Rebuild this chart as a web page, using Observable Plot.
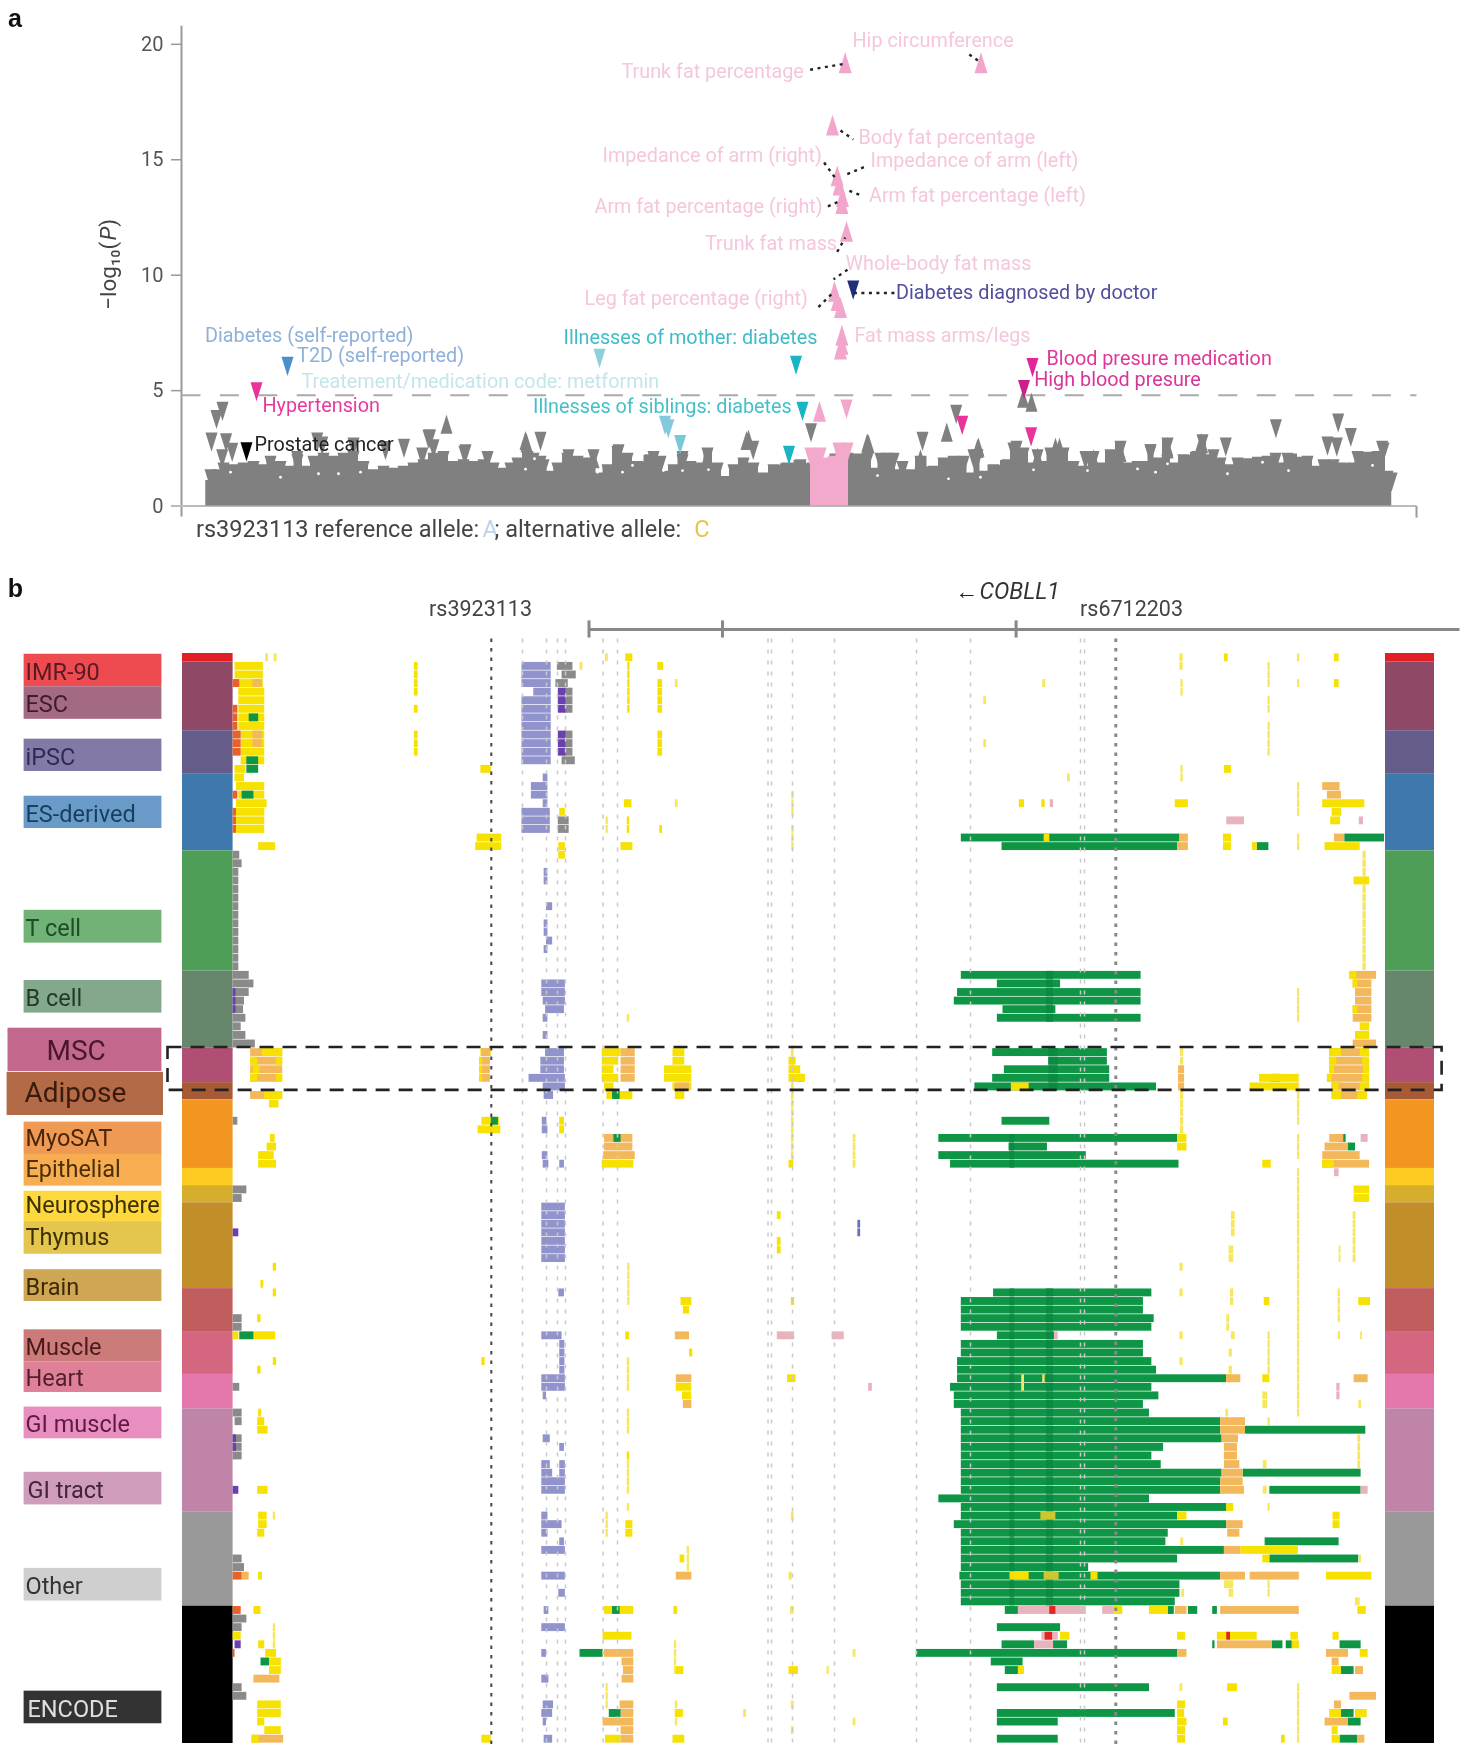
<!DOCTYPE html>
<html><head><meta charset="utf-8">
<script src="https://cdn.jsdelivr.net/npm/d3@7"></script>
<script src="https://cdn.jsdelivr.net/npm/@observablehq/plot@0.6"></script>
<style>
html,body{margin:0;padding:0;background:#fff}
#chart{position:relative;width:1464px;height:1762px;overflow:hidden}
#chart svg{position:absolute;left:0;filter:blur(.55px);overflow:visible}
</style></head><body><div id="chart"></div>
<script>
const FONT = "Roboto";
// ---------- panel a: association values ----------
const gwasTicks = [0,5,10,15,20];
const threshold = 4.8;
const skyline = [[204.5,0],[206,1.11],[210,1.54],[217,1.54],[223,1.83],[233,1.76],[243,1.83],[253,1.9],[263,1.76],[270,2.12],[280,1.9],[290,1.69],[297,2.19],[307,1.69],[313,2.12],[323,2.26],[333,2.12],[343,2.26],[353,2.33],[363,1.9],[373,1.54],[383,1.69],[393,1.61],[403,1.69],[413,1.83],[423,1.97],[433,2.26],[443,2.33],[453,1.9],[463,1.97],[473,1.9],[483,1.97],[487,2.33],[493,1.83],[503,1.61],[510,1.83],[517,2.05],[527,2.33],[533,2.26],[540,2.12],[543,1.97],[550,1.47],[557,1.83],[567,2.26],[577,2.12],[587,2.05],[593,2.41],[598,1.4],[607,1.76],[617,2.55],[627,2.26],[637,1.9],[650,2.19],[660,2.12],[663,1.47],[673,1.76],[682,2.19],[690,1.9],[700,1.83],[707,2.48],[717,1.83],[725,1.25],[733,1.76],[743,2.05],[753,1.83],[763,1.4],[773,1.76],[787,1.83],[800,1.97],[812,1.83],[847,2.26],[867,2.26],[875,1.61],[880,2.26],[893,2.26],[897,1.54],[902,1.9],[910,1.54],[920,2.12],[933,1.69],[943,2.05],[953,2.12],[963,2.12],[970,1.4],[977,2.41],[982,1.47],[993,1.76],[1007,1.97],[1013,2.7],[1023,2.48],[1033,1.83],[1037,2.41],[1043,1.9],[1050,2.48],[1063,2.48],[1073,1.9],[1083,1.69],[1093,2.33],[1100,1.83],[1110,2.41],[1120,2.77],[1127,1.83],[1137,1.9],[1145,1.9],[1150,2.62],[1157,2.05],[1167,2.91],[1173,1.83],[1183,2.19],[1197,2.33],[1202,3.06],[1210,2.19],[1213,2.41],[1220,2.05],[1230,1.76],[1237,2.05],[1267,2.12],[1275,2.26],[1280,1.83],[1287,2.26],[1307,2.12],[1317,1.69],[1323,1.97],[1333,1.97],[1340,1.83],[1352,1.83],[1357,2.33],[1377,2.33],[1383,2.7],[1387,1.47],[1391,1.4],[1391.5,0]];
const pinkSkyline = [[810,0],[810,2.48],[820,2.48],[825,2.05],[833,2.12],[838,2.7],[847,2.7],[849,0]];
const grayUp = [[446,3.55],[526,2.75],[748,2.9],[525,2.84],[593,2.05],[706,2.05],[746,2.84],[868,2.7],[920,2.05],[978,2.55],[1037,2.12],[1055,2.55],[1059,2.55],[1093,2.05],[1110,2.05],[1120,2.33],[1167,2.48],[1201.7,2.7],[1022.6,4.67],[1031,4.5],[946.3,3.2],[866.7,2.74],[977,2.5],[1200.5,2.74],[1166.8,2.58]];
const grayDown = [[222,4.1],[216,3.75],[211,2.77],[225.6,2.74],[231.7,2.33],[221.7,2.05],[429.5,2.9],[540,2.8],[403.5,2.5],[464,2.2],[316.7,2.77],[321.7,2.6],[353,2.55],[385,2.4],[421.7,2.12],[428,2.9],[433,2.48],[465,2.26],[296.7,1.97],[568,2.05],[618,2.26],[653,1.97],[682,1.97],[752.7,2.41],[810.5,3.17],[955.7,3.97],[922,2.8],[887,1.9],[973,2.05],[1016,2.41],[1085,1.97],[1150,2.26],[1225.3,2.55],[1275.4,3.35],[1337.7,3.6],[1350.3,2.97],[1327,2.6],[1336.3,2.55],[1381.7,2.41]];
const pinkUp = [[844.7,19.2],[980.5,19.2],[832,16.5],[836.7,14.3],[838.6,13.9],[842,13.4],[841.4,13.1],[846,11.9],[834,9.3],[836.7,8.9],[840,8.6],[841.4,7.4],[841.4,7.0],[840,6.8],[819,4.1]];
const hitsDown = [[846,4.2,"#f2a6cb"],[852.7,9.35,"#1f2d7a"],[795.5,6.1,"#19b5c4"],[802,4.1,"#19b5c4"],[788.5,2.2,"#19b5c4"],[599,6.4,"#8fd0d8"],[664.5,3.5,"#83c9de"],[667.8,3.35,"#83c9de"],[679.6,2.66,"#79c8d8"],[287,6.05,"#4a8fcb"],[256,4.95,"#e8359c"],[246,2.35,"#000000"],[1032,6.0,"#e0259a"],[1023.5,5.05,"#c9208a"],[961.7,3.5,"#e8359c"],[1030.6,3.0,"#e8359c"]];
const skylineGaps = [[230,1.47],[318,1.4],[338,1.4],[280,1.25],[360,1.47],[525,1.6],[534,2.05],[622,1.47],[632,1.76],[682,1.54],[708,1.58],[663,1.54],[597,1.47],[877,1.32],[948,1.18],[1033,1.57],[980,1.25],[1087,1.54],[1167,1.83],[1155,1.47],[1227,1.4],[1372,1.76],[1137,1.61],[1262,1.9],[1288,1.54]];
const traitNames = ["Hip circumference","Trunk fat percentage","Body fat percentage","Impedance of arm (right)","Impedance of arm (left)","Arm fat percentage (right)","Arm fat percentage (left)","Trunk fat mass","Whole-body fat mass","Leg fat percentage (right)","Fat mass arms/legs","Diabetes diagnosed by doctor","Diabetes (self-reported)","T2D (self-reported)","Illnesses of mother: diabetes","Blood presure medication","High blood presure","Treatement/medication code: metformin","Hypertension","Illnesses of siblings: diabetes","Prostate cancer"];
const traitX = [852,621,858,602,870,594,868.5,704.5,845,584,854,895.5,204.5,296.6,563,1046,1033.7,301,262,532.6,254];
const traitV = [20.2,18.83,16,15.18,14.98,12.99,13.48,11.39,10.5,9.01,7.4,9.25,7.4,6.52,7.3,6.42,5.5,5.4,4.38,4.33,2.68];
const traitInk = ["#f5c6dd","#f5c6dd","#f5c6dd","#f5c6dd","#f5c6dd","#f5c6dd","#f5c6dd","#f5c6dd","#f5c6dd","#f5c6dd","#f5c6dd","#4f4f9c","#8fb0da","#8fb0da","#3fbcc5","#e0389a","#d6359a","#c3e5ec","#e63b9e","#45c0c8","#222222"];
const leaders = [[809.6,18.9,844.7,19.16],[968.8,19.56,980.5,19.2],[840,16.27,852.7,15.88],[823.6,14.88,835.3,14.18],[863.4,14.68,844.7,14.34],[827.4,12.98,837.7,13.18],[858.7,13.49,844.7,13.72],[836.7,11.01,844.7,11.63],[847,10.24,833,9.82],[818,8.62,834,9.31],[893.9,9.23,854,9.23]];
const alleleText = ["rs3923113 reference allele:","A","; alternative allele:","C"];
const alleleX = [195.5,482,494,693.7];
const alleleInk = ["#444444","#bcd3ea","#444444","#e8c34a"];

const narrow = dir => ({draw(c,size){const r=Math.sqrt(size/Math.PI);c.moveTo(0,dir*r*1.6);c.lineTo(r,-dir*r*1.6);c.lineTo(-r,-dir*r*1.6);c.closePath();}});
const triUp = narrow(-1), triDown = narrow(1);
const T = a => a.map(d=>({x:d[0],v:d[1],c:d[2]}));

const traitRows = traitNames.map((t,i)=>({t,x:traitX[i],v:traitV[i],c:traitInk[i]}));
const plotA = Plot.plot({
  width:1464,height:560,margin:0,style:{fontFamily:FONT,background:"transparent"},
  x:{domain:[0,1464],range:[0,1464],axis:null},
  y:{domain:[0,20],range:[505.6,43.8],axis:null},
  marks:[
    Plot.axisY({ticks:gwasTicks,anchor:"left",tickSize:10,tickPadding:8,label:null,fontSize:20,stroke:"#999",x:181,strokeWidth:1.5,fill:"#555"}),
    Plot.link([0],{x1:181,x2:181,y1:-0.45,y2:20.8,stroke:"#9a9a9a",strokeWidth:2}),
    Plot.link([0],{x1:171,x2:1416,y1:0,y2:0,stroke:"#bbb",strokeWidth:2}),
    Plot.link([0],{x1:1416,x2:1416,y1:0,y2:-0.5,stroke:"#999",strokeWidth:2}),
    Plot.link([0],{x1:181,x2:1416,y1:threshold,y2:threshold,stroke:"#aaa",strokeWidth:2.2,strokeDasharray:"19,19.4"}),
    Plot.areaY(skyline,{x:d=>d[0],y:d=>d[1],fill:"#808080",curve:"step"}),
    Plot.dot(skyline.filter(d=>d[1]>1.2),{x:d=>d[0],y:d=>d[1]-0.36,r:6,symbol:triDown,fill:"#808080",stroke:"none"}),
    Plot.dot(skylineGaps,{x:d=>d[0],y:d=>d[1],r:1.4,fill:"#fff",stroke:"none"}),
    Plot.areaY(pinkSkyline,{x:d=>d[0],y:d=>d[1],fill:"#f2a9cc",curve:"step"}),
    Plot.dot(pinkSkyline.filter(d=>d[1]>1.2),{x:d=>d[0],y:d=>d[1]-0.36,r:6,symbol:triDown,fill:"#f2a9cc",stroke:"none"}),
    Plot.dot(T(grayUp),{x:"x",y:"v",r:6,symbol:triUp,fill:"#808080",stroke:"none"}),
    Plot.dot(T(grayDown),{x:"x",y:"v",r:6,symbol:triDown,fill:"#808080",stroke:"none"}),
    Plot.dot(T(pinkUp),{x:"x",y:"v",r:6.5,symbol:triUp,fill:"#f2a6cb",stroke:"none"}),
    Plot.dot(T(hitsDown),{x:"x",y:"v",r:6,symbol:triDown,fill:"c",stroke:"none"}),
    Plot.link(leaders,{x1:d=>d[0],y1:d=>d[1],x2:d=>d[2],y2:d=>d[3],stroke:"#222",strokeWidth:2.4,strokeDasharray:"3,4.5"}),
    Plot.text(traitRows,{x:"x",y:"v",text:"t",fill:"c",textAnchor:"start",fontSize:19.8,dy:0.5}),
    Plot.text(alleleText,{x:(d,i)=>alleleX[i],y:-1.02,text:d=>d,fill:(d,i)=>alleleInk[i],textAnchor:"start",fontSize:23.5}),
    Plot.text(["−log₁₀("],{x:108,y:8.5,text:d=>d,rotate:-90,textAnchor:"start",fontSize:22.5,fill:"#444"}),
    Plot.text(["P"],{x:108,y:11.5,text:d=>d,rotate:-90,textAnchor:"start",fontSize:22.5,fontStyle:"italic",fill:"#444"}),
    Plot.text([")"],{x:108,y:12.1,text:d=>d,rotate:-90,textAnchor:"start",fontSize:22.5,fill:"#444"}),
    Plot.text(["a"],{x:14.5,y:21.1,text:d=>d,fontSize:25,fontWeight:900,fontFamily:"Liberation Sans",fill:"#111"})
  ]
});
plotA.style.top="0px";

// ---------- panel b: chromatin states ----------
const groupNames = ["IMR-90","ESC","iPSC","ES-derived","T cell","B cell","MSC","Adipose","MyoSAT/Epithelial","Neurosphere","Thymus","Brain","Muscle","Heart","GI muscle","GI tract","Other","ENCODE"];
const groupRows = [1,8,5,9,14,9,4,2,8,2,2,10,5,5,4,12,11,16];
const groupFill = ["#e31f26","#8f4866","#655c8a","#3f78ad","#4f9e58","#67876c","#b04f73","#a85a36","#f39621","#fdcb22","#d6ae2e","#c28e2a","#c05e5e","#d56680","#e478ad","#c084a8","#999999","#000000"];
const labelNames = ["IMR-90","ESC","iPSC","ES-derived","T cell","B cell","MSC","Adipose","MyoSAT","Epithelial","Neurosphere","Thymus","Brain","Muscle","Heart","GI muscle","GI tract","Other","ENCODE"];
const labelTop = [0.09,3.88,9.98,16.63,29.92,38.1,43.66,48.8,54.6,58.37,62.65,66.2,71.8,78.8,82.55,87.8,95.4,106.6,120.9];
const labelBottom = [3.88,7.67,13.75,20.39,33.75,41.9,48.7,53.83,58.37,62.06,66.2,70,75.5,82.55,86.1,91.5,99.2,110.4,124.7];
const labelMid = [2,5.75,11.87,18.5,31.83,40,46.05,50.95,56.24,59.85,64.05,67.75,73.65,80.65,84.2,89.65,97.3,108.5,122.8];
const labelFill = ["#ee4b50","#a56a83","#8379a6","#6a9bc8","#71b276","#83a88c","#c2688c","#b36a47","#ee9a55","#f8ad50","#fdd93f","#e3c550","#cfa653","#cc7b7b","#de8098","#e98fbf","#cf9cbc","#cfcfcf","#333333"];
const labelInk = ["#5a1a25","#3d1c2e","#2f2a55","#17405f","#1c4d24","#233a28","#4a1730","#3a1a0c","#4a2508","#4a3008","#3d3000","#3d3000","#3d2a05","#4a1a1a","#521d2e","#5c1a45","#44243a","#333333","#e0e0e0"];
const labelLeft = [23.6,23.6,23.6,23.6,23.6,23.6,7.5,6.6,23.6,23.6,23.6,23.6,23.6,23.6,23.6,23.6,23.6,23.6,23.6];
const labelRight = [161.4,161.4,161.4,161.4,161.4,161.4,161.4,163,161.4,161.4,161.4,161.4,161.4,161.4,161.4,161.4,161.4,161.4,161.4];
const labelTextX = [25,25,25,25,25,25,46,24,25,25,25,25,25,25,25,25,27,25,27];
const labelSize = [23.5,23.5,23.5,23.5,23.5,23.5,28,28,23.5,23.5,23.5,23.5,23.5,23.5,23.5,23.5,23.5,23.5,23.5];

// segments are [firstRow,(lastRow),start,end]; "R" lists are read on the right-hand half, "L" on the left-hand half
const greenR = [[21,493,960],[22,580,955],[37,493,877],[38,570,705],[39,485,877],[40,478,877],[41,582,695],[42,570,877],[46,560,805],[47,680,805],[48,585,810],[49,560,810],[50,522,910],[54,580,682],[56,445,955],[57,595,677],[58,445,760],[59,470,958],[74,562,900],[75,76,493,882],[77,493,905],[78,493,900],[79,570,692],[80,81,493,882],[82,485,900],[83,485,910],[84,485,1060],[85,470,900],[86,478,915],[87,478,882],[88,493,895],[89,90,493,1047],[91,493,1050],[92,493,925],[93,493,900],[94,493,920],[95,493,1050],[96,97,493,1047],[98,445,895],[99,493,1060],[100,493,955],[101,478,1060],[102,493,935],[103,493,930],[104,493,1055],[105,493,955],[106,493,765],[107,490,1047],[108,109,493,960],[110,493,950],[111,587,615],[113,570,705],[115,580,650],[115,690,720],[116,397,955],[117,557,625],[118,587,615],[120,570,895],[123,570,950],[124,570,700],[126,570,700],
 [21,1312,1397],[22,1125,1150],[46,1305,1330],[49,1155,1175],[51,1305,1340],[56,1300,1315],[57,1320,1335],[90,1100,1357],[95,1095,1347],[97,1152,1347],[103,1142,1300],[105,1152,1342],[111,935,948],[111,978,998],[111,1030,1040],[115,1030,1035],[115,1157,1180],[115,1187,1200],[115,1302,1347],[118,1305,1332],[123,1305,1332],[124,1320,1347],[126,1302,1340],[49,145,155]];
const darkGreenR = [[74,110,597,607],[74,110,675,690],[37,42,675,690],[46,50,680,700],[56,59,597,607]];
const orangeR = [[21,960,978],[22,955,978],[21,1290,1312],[15,1265,1302],[16,1275,1305],[37,1323,1380],[38,1330,1370],[39,40,1335,1370],[41,42,1330,1370],[45,1330,1380],[46,47,1280,1365],[48,1280,1365],[49,1275,1365],[50,1285,1365],[51,1285,1360],[48,50,957,970],[56,1280,1310],[57,1270,1320],[58,1265,1345],[59,1265,1365],[84,1060,1090],[84,1332,1362],[89,90,1047,1100],[91,1050,1085],[92,93,1055,1083],[94,1055,1088],[95,1050,1095],[96,1047,1095],[97,1047,1098],[101,1060,1095],[102,1062,1088],[104,1055,1090],[107,1047,1100],[107,1110,1215],[111,950,975],[111,1047,1215],[115,1040,1157],[116,955,975],[116,1273,1320],[117,1285,1300],[118,1335,1352],[121,1323,1380],[122,1290,1305],[124,1270,1320],[126,1340,1355]];
const yellowR = [[0,1055,1063],[0,1290,1300],[3,1290,1300],[13,1055,1070],[17,950,978],[17,617,628],[17,665,672],[17,1265,1355],[18,1285,1305],[19,1282,1303],[21,1053,1070],[21,670,682],[22,1053,1070],[22,1115,1125],[22,1270,1345],[26,1332,1365],[43,1345,1365],[44,1335,1365],[49,1130,1213],[50,1110,1213],[50,600,638],[50,1285,1310],[49,125,160],[47,125,140],[48,125,150],[56,955,975],[57,955,975],[59,1137,1155],[59,125,135],[62,63,1332,1365],[75,130,137],[75,1140,1152],[75,1342,1367],[84,1137,1152],[84,122,140],[84,1060,1075],[99,1060,1075],[100,955,975],[100,1287,1302],[101,1287,1302],[104,1090,1213],[105,1137,1152],[107,597,638],[107,770,785],[107,1273,1370],[111,820,838],[111,895,935],[111,1340,1358],[114,705,725],[114,955,972],[114,1040,1125],[114,1197,1213],[114,1287,1300],[115,1200,1215],[116,1345,1362],[118,615,628],[118,125,145],[118,1285,1305],[120,1062,1083],[122,955,972],[123,955,970],[123,1280,1305],[123,1335,1360],[124,955,975],[124,1053,1063],[125,126,955,972],[125,1285,1298],[126,1177,1185],[126,1285,1302],[68,69,100,108],[65,100,108]];
const yellowOverR = [[46,1280,1305],[46,1345,1365],[47,1280,1295],[47,1350,1365],[48,1280,1290],[48,1352,1365],[49,1275,1285],[49,1350,1365],[50,1285,1300],[50,1345,1365],[51,1285,1305],[51,1340,1360],[37,1323,1338],[38,1330,1340],[41,1330,1340],[59,1265,1290]];
const oliveR = [[100,663,695],[107,670,702]];
const pinkR = [[19,1060,1098],[19,1343,1352],[17,683,690],[56,1347,1362],[60,1290,1300],[79,100,137],[79,217,243],[79,692,700],[85,295,303],[85,86,1295,1302],[97,1347,1362],[111,615,760],[111,795,820],[114,665,700],[115,650,690]];
const redR = [[111,682,695],[114,672,688],[114,1060,1068]];
const blueR = [[66,67,272,278]];
const thinR = [[0,1,960,967],[3,4,962,967],[1,3,1148,1153],[5,6,1148,1153],[8,11,1148,1153],[0,1211,1216],[3,1211,1216],[15,18,1211,1216],[21,22,1211,1216],[39,42,1211,1216],[49,51,1211,1216],[3,667,673],[5,541,547],[10,541,547],[14,720,726],[13,14,962,967],[23,36,1351,1358],[16,18,131,136],[20,22,131,136],[46,50,130,136],[51,58,130,136],[46,55,961,968],[56,58,1211,1216],[56,59,262,268],[51,54,1211,1216],[60,88,1211,1216],[69,70,1065,1075],[65,67,1070,1078],[69,70,1300,1304],[65,70,1330,1336],[74,75,1068,1075],[71,960,967],[74,960,967],[74,77,1298,1303],[79,960,967],[79,1070,1078],[79,1298,1303],[79,1346,1350],[77,78,1060,1066],[81,1065,1072],[82,960,967],[83,1065,1072],[79,83,1148,1153],[84,85,622,628],[84,667,672],[86,87,1137,1147],[87,1342,1348],[88,1058,1064],[89,1148,1153],[94,1138,1146],[97,1138,1146],[99,1148,1153],[100,130,136],[103,962,968],[105,1343,1348],[107,125,132],[108,1055,1075],[108,109,1148,1153],[109,1065,1075],[109,964,970],[110,1335,1345],[111,128,136],[116,262,268],[118,206,211],[120,960,966],[122,130,136],[123,28,34],[124,262,268],[125,130,136],[120,123,1211,1216],[124,126,1211,1216],[91,94,1340,1346]];
const yellowL = [[1,3,497,557],[4,505,560],[5,8,505,560],[9,12,510,560],[13,497,520],[14,497,517],[15,500,560],[16,505,560],[17,500,565],[18,20,500,560],[22,547,583],[13,1018,1040],[21,1010,1062],[22,1007,1062],[1,4,877,885],[6,877,885],[9,11,877,885],[0,1325,1340],[1,6,1329,1334],[1,1393,1405],[3,6,1393,1403],[9,11,1393,1403],[17,1322,1338],[19,20,1328,1333],[20,1397,1403],[22,1315,1340],[18,1185,1197],[22,23,1183,1197],[46,1018,1040],[46,1275,1315],[47,1275,1310],[48,1275,1300],[49,1275,1310],[50,1280,1300],[46,47,1425,1450],[48,49,1407,1465],[50,1425,1465],[51,1430,1450],[47,49,1015,1020],[52,570,590],[54,1020,1058],[55,1012,1060],[54,1185,1195],[55,1185,1195],[56,572,582],[57,565,585],[58,547,580],[59,547,585],[59,1275,1342],[51,1285,1340],[71,578,585],[73,552,558],[74,578,585],[75,1442,1465],[76,1447,1460],[77,545,552],[79,493,505],[79,537,583],[79,1325,1333],[81,1460,1467],[82,578,585],[82,1020,1027],[83,545,552],[85,1432,1465],[86,1445,1465],[88,547,553],[89,545,560],[90,545,567],[93,1328,1333],[97,545,567],[100,547,565],[101,547,565],[101,1325,1340],[102,545,560],[102,1325,1340],[105,1440,1450],[107,547,555],[111,537,552],[111,1280,1342],[111,1427,1435],[114,1277,1338],[114,493,510],[115,547,560],[116,562,585],[117,570,595],[118,570,595],[118,1432,1448],[122,123,545,595],[123,1430,1447],[124,545,560],[125,560,595],[126,1020,1040],[126,1282,1315],[126,1425,1450]];
const orangeL = [[3,535,555],[9,10,535,555],[46,49,1020,1038],[46,49,1315,1345],[46,530,598],[47,49,530,598],[50,1430,1460],[51,530,598],[56,57,1280,1340],[58,1278,1345],[79,1430,1460],[84,1432,1465],[87,1447,1465],[107,512,527],[107,1432,1465],[116,1280,1342],[117,1317,1342],[118,1320,1342],[119,537,592],[119,1317,1342],[122,1313,1342],[123,1315,1342],[124,1277,1342],[125,1315,1342],[126,533,600],[126,1315,1342]];
const yellowOverL = [[46,555,598],[47,530,545],[47,585,598],[48,535,550],[49,530,545],[49,585,598],[51,560,598],[126,533,548]];
const emberL = [[3,493,507],[6,8,493,503],[9,11,493,510],[16,493,503],[18,20,493,500],[107,493,512],[111,493,510],[116,493,497]];
const greenL = [[7,527,547],[12,13,522,547],[16,512,537],[54,1040,1055],[56,1300,1315],[51,1297,1313],[79,507,537],[111,1297,1313],[116,1228,1277],[117,552,570],[123,1290,1315]];
const grayL = [[23,493,507],[24,493,512],[25,36,493,505],[37,493,527],[38,493,537],[39,493,527],[40,493,517],[41,493,515],[42,493,520],[43,493,510],[44,493,520],[45,493,540],[54,493,503],[62,493,522],[63,493,512],[77,78,493,512],[85,493,507],[88,493,512],[89,497,512],[91,93,493,512],[105,493,512],[106,493,517],[112,493,522],[113,493,512],[120,493,512],[121,493,522],[1,1180,1213],[2,1190,1220],[3,1177,1203],[4,6,1195,1213],[9,11,1195,1213],[12,1190,1218],[19,20,1182,1205]];
const purpleL = [[4,6,1182,1198],[9,11,1182,1198],[39,41,493,499],[67,493,505],[91,92,493,500],[97,493,505],[115,497,510]];
const periL = [[1,3,1105,1167],[4,1130,1167],[5,12,1105,1167],[14,1150,1160],[15,16,1125,1160],[17,1150,1160],[18,20,1105,1165],[25,26,1152,1160],[29,1157,1170],[31,32,1152,1160],[33,1157,1170],[34,1152,1160],[38,39,1147,1197],[40,1150,1197],[41,1155,1195],[42,1150,1160],[44,1150,1160],[46,1155,1195],[47,48,1145,1195],[49,1120,1197],[50,1150,1197],[51,1152,1172],[54,1148,1158],[55,1148,1160],[58,1148,1160],[59,1150,1162],[59,1185,1195],[64,70,1147,1197],[74,1183,1195],[79,1147,1190],[80,83,1185,1196],[84,85,1147,1197],[86,1150,1157],[91,1150,1165],[92,1185,1195],[94,1147,1165],[94,1185,1197],[95,1147,1170],[95,1185,1197],[96,97,1147,1197],[100,1147,1160],[101,1147,1190],[102,1147,1160],[103,1185,1195],[104,1147,1197],[107,1147,1197],[109,1183,1197],[111,1152,1162],[113,1147,1197],[116,1147,1157],[119,1147,1162],[122,1150,1172],[123,1147,1170],[124,1150,1157],[126,1152,1170]];
const thinL = [[0,562,568],[0,580,586],[1,1228,1234],[0,1282,1288],[3,1430,1436],[17,1430,1436],[19,20,1283,1288],[71,75,1329,1334],[82,85,1328,1333],[88,90,1328,1333],[94,97,1328,1333],[99,1328,1333],[100,102,1283,1288],[42,1328,1333],[113,116,578,583],[100,578,583],[120,122,1283,1288],[115,118,1428,1433],[104,106,1455,1460],[122,124,1430,1435]];
const thinMarkers = [522,546,557,565,602.6,617,767.5,771,792,834,916,970,1080,1084];
const darkMarkers = [[490.8,"#444444",2],[1115.3,"#888888",3]];
const geneTicks = [588.5,722,1015.6];

// calibration of the two reading halves onto the shared position axis
const fromR = z => 730 + z/2.136, fromL = z => z/2.119;
const expand = (list,side,fill) => list.map(s => {
  const [a,b,x1,x2] = s.length===3 ? [s[0],s[0],s[1],s[2]] : s;
  const f = side==="R"?fromR:fromL;
  return {r1:a,r2:b,x1:f(x1),x2:f(x2),fill};
}).flatMap(d => d3.range(d.r1,d.r2+1).map(r=>({...d,r})));
const segs = [
  ...expand(greenR,"R","#0e9646"),
  ...expand(darkGreenR,"R","#0b8b41"),
  ...expand(pinkR,"R","#e9b3bd"),
  ...expand(thinR,"R","#f7e75e"),
  ...expand(thinL,"L","#f7e75e"),
  ...expand(yellowL,"L","#f6e100"),
  ...expand(yellowR,"R","#f6e100"),
  ...expand(orangeL,"L","#f4b85c"),
  ...expand(orangeR,"R","#f4b85c"),
  ...expand(yellowOverL,"L","#f6e100"),
  ...expand(yellowOverR,"R","#f6e100"),
  ...expand(oliveR,"R","#cdc72f"),
  ...expand(redR,"R","#e3241f"),
  ...expand(emberL,"L","#e8602a"),
  ...expand(greenL,"L","#0e9646"),
  ...expand(grayL,"L","#8a8a8a"),
  ...expand(periL,"L","#9193cd"),
  ...expand(purpleL,"L","#6a3fb0"),
  ...expand(blueR,"R","#6a70c0")
];
let cum = 0;
const groups = groupNames.map((n,i)=>{const o={n,a:cum,b:cum+groupRows[i],fill:groupFill[i]};cum=o.b;return o;});
const labels = labelNames.map((n,i)=>({n,t:labelTop[i],b:labelBottom[i],m:labelMid[i],f:labelFill[i],ink:labelInk[i],l:labelLeft[i],r:labelRight[i],tx:labelTextX[i],size:labelSize[i]}));

const plotB = Plot.plot({
  width:1464,height:1202,margin:0,style:{fontFamily:FONT,background:"transparent"},
  x:{domain:[0,1464],range:[0,1464],axis:null},
  y:{domain:[0,127],range:[93,1183],axis:null},
  marks:[
    Plot.rectY(labels,{x1:"l",x2:"r",y1:"t",y2:"b",fill:"f"}),
    Plot.text(labels,{x:"tx",y:"m",text:"n",fill:"ink",fontSize:"size",textAnchor:"start",dy:2}),
    Plot.rectY(groups,{x1:182,x2:232.6,y1:"a",y2:"b",fill:"fill"}),
    Plot.rectY(groups,{x1:1385,x2:1434,y1:"a",y2:"b",fill:"fill"}),
    Plot.rectY(segs,{x1:"x1",x2:"x2",y1:"r",y2:d=>d.r+1,fill:"fill",insetTop:0.35,insetBottom:0.35}),
    Plot.ruleX(thinMarkers,{y1:-1.7,y2:127.6,stroke:"#c9c9c9",strokeWidth:1.5,strokeDasharray:"4,7"}),
    Plot.ruleX(darkMarkers,{x:d=>d[0],y1:-1.7,y2:127.6,stroke:d=>d[1],strokeWidth:d=>d[2],strokeDasharray:"3.5,6"}),
    Plot.link([0],{x1:588.5,x2:1459,y1:-2.8,y2:-2.8,stroke:"#888",strokeWidth:3}),
    Plot.ruleX(geneTicks,{y1:-3.8,y2:-1.8,stroke:"#888",strokeWidth:3}),
    Plot.text(["rs3923113"],{x:480,y:-5.2,text:d=>d,fontSize:21.5,fill:"#444"}),
    Plot.text(["rs6712203"],{x:1131,y:-5.2,text:d=>d,fontSize:21.5,fill:"#444"}),
    Plot.text(["←"],{x:966,y:-7.25,text:d=>d,fontSize:23,fill:"#222"}),
    Plot.text(["COBLL1"],{x:979,y:-7.25,text:d=>d,fontSize:23,fontStyle:"italic",textAnchor:"start",fill:"#333"}),
    Plot.rectY([0],{x1:167.5,x2:1441.6,y1:45.9,y2:50.9,fill:"none",stroke:"#222",strokeWidth:2.6,strokeDasharray:"14,9"}),
    Plot.text(["b"],{x:15,y:-7.5,text:d=>d,fontSize:25,fontWeight:900,fontFamily:"Liberation Sans",fill:"#111"})
  ]
});
plotB.style.top="560px";
document.getElementById("chart").append(plotA,plotB);
</script></body></html>
